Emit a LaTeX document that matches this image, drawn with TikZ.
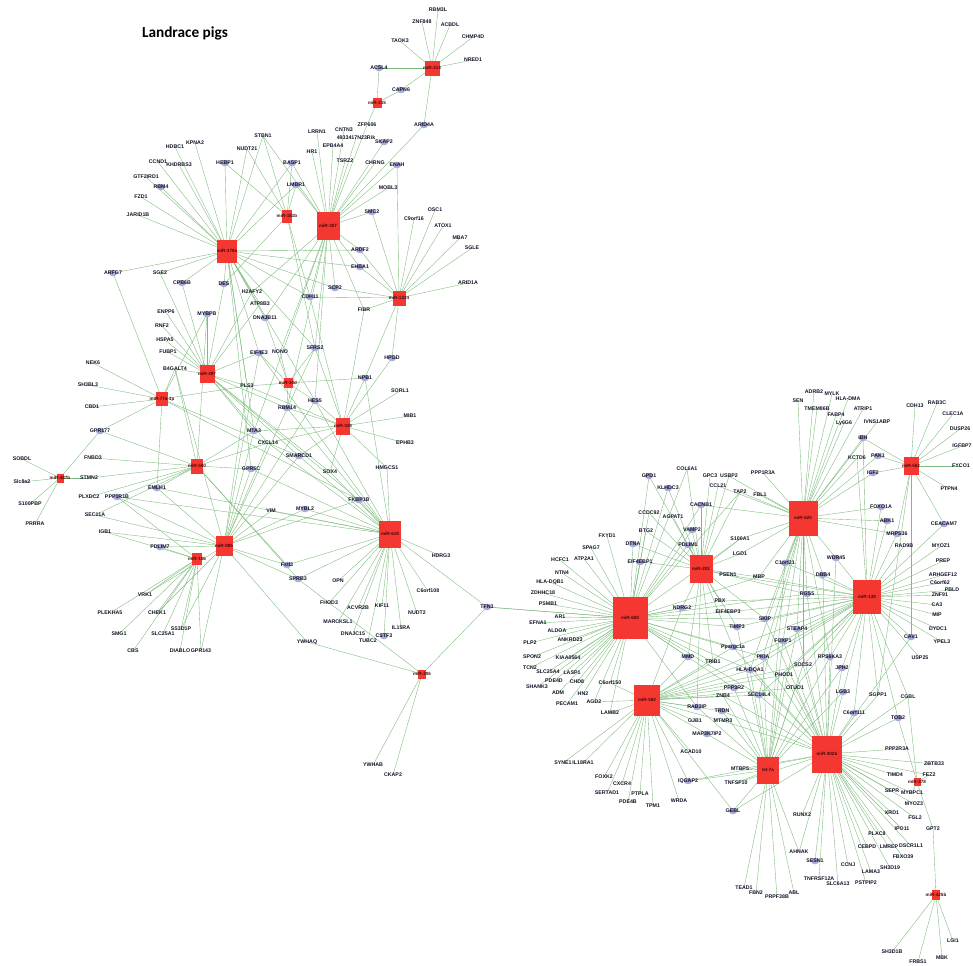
\documentclass[tikz,border=0pt]{standalone}
\usepackage{fontspec}
\setmainfont{Liberation Sans}
\newfontfamily\titlefont{Carlito}
\definecolor{mred}{RGB}{245,55,50}
\definecolor{mtxt}{RGB}{70,10,10}
\definecolor{egreen}{RGB}{125,188,125}
\definecolor{lavc}{RGB}{170,170,218}
\definecolor{gtxt}{RGB}{20,20,40}
\pgfdeclarelayer{edges}
\pgfdeclarelayer{circ}
\pgfsetlayers{edges,circ,main}
\tikzset{
  g/.style={font=\fontsize{3}{3}\selectfont\bfseries, text=gtxt, inner sep=0.3pt},
  mir/.style={rectangle, fill=mred, draw=none, inner sep=0pt},
  sz/.style 2 args={minimum width=#1*0.02cm, minimum height=#2*0.02cm},
  mt/.style={font=\fontsize{2.6}{2.6}\selectfont\bfseries, text=mtxt, inner sep=0pt},
  edge/.style={draw=egreen, line width=0.22pt}
}
\begin{document}
\begin{tikzpicture}[x=0.02cm,y=-0.02cm]
\useasboundingbox (0,0) rectangle (973,965);
\node[font=\titlefont\fontsize{8.7}{9}\selectfont\bfseries] (title) at (185,33) {Landrace pigs};
% ---------- miRNAs left ----------
\node[mir, sz={15}{15}, label={[mt]center:miR-214}] (m214) at (432,68) {};
\node[mir, sz={9}{10}, label={[mt]center:miR-215}] (m215) at (377,103) {};
\node[mir, sz={23}{28}, label={[mt]center:miR-307}] (m307) at (328,226) {};
\node[mir, sz={10}{13}, label={[mt]center:miR-181b}] (m181) at (287,216) {};
\node[mir, sz={20}{23}, label={[mt]center:miR-378a}] (m378a) at (227,251) {};
\node[mir, sz={13}{15}, label={[mt]center:miR-1224}] (m1224) at (399,298) {};
\node[mir, sz={15}{18}, label={[mt]center:miR-497}] (m497) at (207,374) {};
\node[mir, sz={12}{14}, label={[mt]center:miR-77a-3p}] (m77) at (162,399) {};
\node[mir, sz={9}{10}, label={[mt]center:miR-30d}] (m30d) at (288,383) {};
\node[mir, sz={14}{17}, label={[mt]center:miR-328}] (m328) at (343,426) {};
\node[mir, sz={12}{15}, label={[mt]center:miR-500}] (m500) at (197,466) {};
\node[mir, sz={7}{9}, label={[mt]center:miR-487b}] (m487) at (60,478) {};
\node[mir, sz={17}{20}, label={[mt]center:miR-885}] (m885) at (224,546) {};
\node[mir, sz={10}{12}, label={[mt]center:miR-106}] (m106) at (197,559) {};
\node[mir, sz={22}{27}, label={[mt]center:miR-619}] (m619) at (390,534) {};
\node[mir, sz={8}{9}, label={[mt]center:miR-206}] (m206) at (422,674) {};
% ---------- miRNAs right ----------
\node[mir, sz={23}{28}, label={[mt]center:miR-202}] (m202) at (701,569) {};
\node[mir, sz={29}{35}, label={[mt]center:miR-625}] (m625) at (803,518) {};
\node[mir, sz={15}{18}, label={[mt]center:miR-552}] (m552) at (911,466) {};
\node[mir, sz={28}{34}, label={[mt]center:miR-138}] (m138) at (867,597) {};
\node[mir, sz={35}{42}, label={[mt]center:miR-608}] (m608) at (630,618) {};
\node[mir, sz={26}{31}, label={[mt]center:miR-582}] (m582) at (647,700) {};
\node[mir, sz={22}{27}, label={[mt]center:let-7a}] (mlet7) at (768,770) {};
\node[mir, sz={30}{37}, label={[mt]center:miR-302b}] (m302) at (827,754) {};
\node[mir, sz={7}{8}, label={[mt]center:miR-378}] (m378) at (917,782) {};
\node[mir, sz={8}{10}, label={[mt]center:miR-425b}] (m425) at (936,895) {};
% ---------- genes left ----------
\node[g] (RBMthree) at (438,10) {RBM3L};
\node[g] (ZNF848) at (422,22) {ZNF848};
\node[g] (ACBDL) at (450,25) {ACBDL};
\node[g] (CHMP4D) at (473,37) {CHMP4D};
\node[g] (TAOK3) at (400,41) {TAOK3};
\node[g] (NRED1) at (473,60) {NRED1};
\node[g] (ACSL4) at (379,68) {ACSL4};
\node[g] (CAPN6) at (401,90) {CAPN6};
\node[g] (ARID4A) at (424,125) {ARID4A};
\node[g] (ZFP606) at (367,125) {ZFP606};
\node[g] (CNTN3) at (344,130) {CNTN3};
\node[g] (Rik) at (356,138) {4933417N23Rik};
\node[g] (SKAP2) at (384,142) {SKAP2};
\node[g] (EPB4A4) at (333,146) {EPB4A4};
\node[g] (LRRN1) at (317,132) {LRRN1};
\node[g] (HR1) at (312,152) {HR1};
\node[g] (TSRZ2) at (345,161) {TSRZ2};
\node[g] (CHRNG) at (375,163) {CHRNG};
\node[g] (ENAH) at (397,165) {ENAH};
\node[g] (MOBL3) at (388,188) {MOBL3};
\node[g] (SMC2) at (372,212) {SMC2};
\node[g] (ARDF2) at (360,250) {ARDF2};
\node[g] (EHBA1) at (360,267) {EHBA1};
\node[g] (SCP2) at (335,288) {SCP2};
\node[g] (CDH11) at (310,297) {CDH11};
\node[g] (C9orf16) at (414,219) {C9orf16};
\node[g] (OSC1) at (435,210) {OSC1};
\node[g] (ATOX1) at (443,226) {ATOX1};
\node[g] (MBA7) at (460,238) {MBA7};
\node[g] (SGLE) at (472,248) {SGLE};
\node[g] (ARID1A) at (468,283) {ARID1A};
\node[g] (HDBC1) at (175,147) {HDBC1};
\node[g] (KPNA2) at (195,143) {KPNA2};
\node[g] (STBN1) at (263,136) {STBN1};
\node[g] (NUDT21) at (247,149) {NUDT21};
\node[g] (CCND1) at (158,162) {CCND1};
\node[g] (KHDRBS3) at (179,165) {KHDRBS3};
\node[g] (HEBP1) at (225,163) {HEBP1};
\node[g] (BASP1) at (292,163) {BASP1};
\node[g] (GTF2IRD1) at (146,177) {GTF2IRD1};
\node[g] (RBM4) at (161,187) {RBM4};
\node[g] (LMBR1) at (296,185) {LMBR1};
\node[g] (FZD1) at (141,197) {FZD1};
\node[g] (JARID1B) at (138,215) {JARID1B};
\node[g] (ARFG7) at (113,273) {ARFG7};
\node[g] (SGE2) at (160,273) {SGE2};
\node[g] (CPB6B) at (182,283) {CPB6B};
\node[g] (DES) at (224,284) {DES};
\node[g] (H2AFY2) at (252,292) {H2AFY2};
\node[g] (ATP8B3) at (260,304) {ATP8B3};
\node[g] (DNAJB11) at (265,318) {DNAJB11};
\node[g] (FIBR) at (364,310) {FIBR};
\node[g] (ENPP6) at (166,312) {ENPP6};
\node[g] (MYBPB) at (207,314) {MYBPB};
\node[g] (RNF2) at (162,326) {RNF2};
\node[g] (HSPA5) at (165,340) {HSPA5};
\node[g] (FUBP1) at (168,352) {FUBP1};
\node[g] (B4GALT4) at (175,369) {B4GALT4};
\node[g] (NEK6) at (93,363) {NEK6};
\node[g] (SH3BL3) at (88,385) {SH3BL3};
\node[g] (CBD1) at (92,407) {CBD1};
\node[g] (GPR177) at (100,431) {GPR177};
\node[g] (PLS3) at (247,386) {PLS3};
\node[g] (EIF4E3) at (259,353) {EIF4E3};
\node[g] (NONO) at (280,352) {NONO};
\node[g] (SFRS2) at (315,348) {SFRS2};
\node[g] (HPGD) at (392,358) {HPGD};
\node[g] (NPB1) at (365,378) {NPB1};
\node[g] (SORL1) at (400,391) {SORL1};
\node[g] (HES5) at (315,401) {HES5};
\node[g] (RBM14) at (287,408) {RBM14};
\node[g] (MIB1) at (410,416) {MIB1};
\node[g] (MTA3) at (254,431) {MTA3};
\node[g] (CXCL14) at (268,443) {CXCL14};
\node[g] (EPHB3) at (405,443) {EPHB3};
\node[g] (SMARCD1) at (299,456) {SMARCD1};
\node[g] (GPR5C) at (251,469) {GPR5C};
\node[g] (HMGCS1) at (387,468) {HMGCS1};
\node[g] (SOX4) at (330,472) {SOX4};
\node[g] (FNBD3) at (93,458) {FNBD3};
\node[g] (STMN2) at (89,478) {STMN2};
\node[g] (SOBDL) at (22,459) {SOBDL};
\node[g] (Slc8a2) at (22,482) {Slc8a2};
\node[g] (EMLH1) at (157,488) {EMLH1};
\node[g] (PLXDC2) at (89,497) {PLXDC2};
\node[g] (PPP1R1B) at (117,497) {PPP1R1B};
\node[g] (S100PBP) at (30,504) {S100PBP};
\node[g] (PRRRA) at (35,524) {PRRRA};
\node[g] (SEC11A) at (95,515) {SEC11A};
\node[g] (IGB1) at (105,532) {IGB1};
\node[g] (PDLIM7) at (160,547) {PDLIM7};
\node[g] (VRK1) at (145,595) {VRK1};
\node[g] (PLEKHA5) at (110,613) {PLEKHA5};
\node[g] (CHEK1) at (157,613) {CHEK1};
\node[g] (SMG1) at (119,634) {SMG1};
\node[g] (SLC25A1) at (163,634) {SLC25A1};
\node[g] (SS3D1P) at (181,629) {SS3D1P};
\node[g] (CBS) at (133,651) {CBS};
\node[g] (DIABLO) at (180,651) {DIABLO};
\node[g] (GPR143) at (201,651) {GPR143};
\node[g] (FKBP1B) at (359,500) {FKBP1B};
\node[g] (VIM) at (271,511) {VIM};
\node[g] (MYBL2) at (305,509) {MYBL2};
\node[g] (HDRG3) at (441,556) {HDRG3};
\node[g] (Fstl3) at (287,565) {Fstl3};
\node[g] (SPRB3) at (298,579) {SPRB3};
\node[g] (OPN) at (338,581) {OPN};
\node[g] (C6orf108) at (428,591) {C6orf108};
\node[g] (FHOD3) at (329,603) {FHOD3};
\node[g] (ACVR2B) at (358,608) {ACVR2B};
\node[g] (KIF11) at (382,606) {KIF11};
\node[g] (NUDT2) at (417,613) {NUDT2};
\node[g] (MARCKSL1) at (338,622) {MARCKSL1};
\node[g] (IL15RA) at (401,628) {IL15RA};
\node[g] (DNAJC15) at (353,634) {DNAJC15};
\node[g] (CSTF3) at (384,636) {CSTF3};
\node[g] (TUBC2) at (368,641) {TUBC2};
\node[g] (YWHAQ) at (307,642) {YWHAQ};
\node[g] (TFN3) at (487,607) {TFN3};
\node[g] (YWHAB) at (373,765) {YWHAB};
\node[g] (CKAP2) at (393,775) {CKAP2};
% ---------- genes right ----------
\node[g] (COL6A1) at (687,469) {COL6A1};
\node[g] (GPD1) at (649,476) {GPD1};
\node[g] (GPC3) at (710,476) {GPC3};
\node[g] (USBP2) at (729,476) {USBP2};
\node[g] (KLHDC3) at (668,488) {KLHDC3};
\node[g] (CCL21) at (718,486) {CCL21};
\node[g] (TAP2) at (740,492) {TAP2};
\node[g] (CACNB1) at (701,505) {CACNB1};
\node[g] (CCDC92) at (649,513) {CCDC92};
\node[g] (AGPAT1) at (673,517) {AGPAT1};
\node[g] (BTG2) at (646,531) {BTG2};
\node[g] (VAMP2) at (692,530) {VAMP2};
\node[g] (FXYD1) at (607,536) {FXYD1};
\node[g] (S100A1) at (740,539) {S100A1};
\node[g] (SPAG7) at (591,548) {SPAG7};
\node[g] (DTNA) at (633,544) {DTNA};
\node[g] (PDLIM1) at (688,545) {PDLIM1};
\node[g] (LGD1) at (740,554) {LGD1};
\node[g] (HCFC1) at (560,560) {HCFC1};
\node[g] (ATP2A1) at (584,559) {ATP2A1};
\node[g] (EIF4EBP1) at (640,562) {EIF4EBP1};
\node[g] (ADRB2) at (814,392) {ADRB2};
\node[g] (MYLK) at (832,394) {MYLK};
\node[g] (HLADMA) at (848,399) {HLA-DMA};
\node[g] (SEN) at (798,401) {SEN};
\node[g] (TMEM86B) at (817,409) {TMEM86B};
\node[g] (ATRIP1) at (863,409) {ATRIP1};
\node[g] (FABP4) at (836,415) {FABP4};
\node[g] (Ly6G6) at (844,423) {Ly6G6};
\node[g] (IVNS1ABP) at (877,422) {IVNS1ABP};
\node[g] (CDH13) at (915,406) {CDH13};
\node[g] (RAB3C) at (937,403) {RAB3C};
\node[g] (CLEC1A) at (953,414) {CLEC1A};
\node[g] (DUSP26) at (960,429) {DUSP26};
\node[g] (IGFBP7) at (962,446) {IGFBP7};
\node[g] (FYCO1) at (961,466) {FYCO1};
\node[g] (PTPN4) at (949,489) {PTPN4};
\node[g] (IBH) at (863,438) {IBH};
\node[g] (KCTD6) at (857,458) {KCTD6};
\node[g] (PAK1) at (878,456) {PAK1};
\node[g] (IGF2) at (873,473) {IGF2};
\node[g] (PPP1R3A) at (763,473) {PPP1R3A};
\node[g] (FBL1) at (760,495) {FBL1};
\node[g] (FOXO1A) at (881,507) {FOXO1A};
\node[g] (ABK1) at (887,521) {ABK1};
\node[g] (CEACAM7) at (944,524) {CEACAM7};
\node[g] (MRPS36) at (897,534) {MRPS36};
\node[g] (RAD9B) at (904,546) {RAD9B};
\node[g] (MYOZ1) at (941,546) {MYOZ1};
\node[g] (PREP) at (943,561) {PREP};
\node[g] (ARHGEF12) at (943,575) {ARHGEF12};
\node[g] (C6orf62) at (940,583) {C6orf62};
\node[g] (WDR45) at (836,558) {WDR45};
\node[g] (C1orf21) at (785,563) {C1orf21};
\node[g] (DBB4) at (823,575) {DBB4};
\node[g] (MBP) at (759,577) {MBP};
\node[g] (PBLD) at (952,590) {PBLD};
\node[g] (ZNF91) at (940,595) {ZNF91};
\node[g] (CA3) at (937,605) {CA3};
\node[g] (MIP) at (937,615) {MIP};
\node[g] (DYDC1) at (938,629) {DYDC1};
\node[g] (YPEL3) at (942,642) {YPEL3};
\node[g] (CAV1) at (911,637) {CAV1};
\node[g] (USP25) at (920,658) {USP25};
\node[g] (RGS5) at (807,594) {RGS5};
\node[g] (SKIP) at (765,619) {SKIP};
\node[g] (STEAP4) at (797,629) {STEAP4};
\node[g] (FOXP1) at (783,641) {FOXP1};
\node[g] (PKIA) at (763,657) {PKIA};
\node[g] (RPS6KA3) at (830,657) {RPS6KA3};
\node[g] (JPH2) at (842,668) {JPH2};
\node[g] (SOCS2) at (803,665) {SOCS2};
\node[g] (HLADQA1) at (750,670) {HLA-DQA1};
\node[g] (PHOD1) at (784,675) {PHOD1};
\node[g] (OTUD1) at (795,688) {OTUD1};
\node[g] (SEC14L4) at (759,695) {SEC14L4};
\node[g] (LGB3) at (843,692) {LGB3};
\node[g] (SGPP1) at (878,695) {SGPP1};
\node[g] (CGBL) at (908,697) {CGBL};
\node[g] (C6orf111) at (854,713) {C6orf111};
\node[g] (TOB2) at (898,718) {TOB2};
\node[g] (PPP2R3A) at (897,749) {PPP2R3A};
\node[g] (ZBTB33) at (934,764) {ZBTB33};
\node[g] (FEZ2) at (929,775) {FEZ2};
\node[g] (TIMD4) at (895,775) {TIMD4};
\node[g] (SEPR) at (892,791) {SEPR};
\node[g] (MYBPC1) at (912,793) {MYBPC1};
\node[g] (MYOZ3) at (914,804) {MYOZ3};
\node[g] (XRD1) at (892,813) {XRD1};
\node[g] (FGL2) at (915,818) {FGL2};
\node[g] (IPO11) at (902,829) {IPO11};
\node[g] (GPT2) at (933,829) {GPT2};
\node[g] (PLAC8) at (877,834) {PLAC8};
\node[g] (CEBPD) at (867,847) {CEBPD};
\node[g] (LMREP) at (889,847) {LMREP};
\node[g] (DSCR1L1) at (911,846) {DSCR1L1};
\node[g] (FBXO39) at (903,857) {FBXO39};
\node[g] (AHNAK) at (799,852) {AHNAK};
\node[g] (SESN1) at (815,861) {SESN1};
\node[g] (CCNJ) at (848,865) {CCNJ};
\node[g] (LAMA3) at (871,872) {LAMA3};
\node[g] (SH3D19) at (890,868) {SH3D19};
\node[g] (TNFRSF12A) at (819,879) {TNFRSF12A};
\node[g] (SLC6A13) at (838,884) {SLC6A13};
\node[g] (PSTPIP2) at (866,883) {PSTPIP2};
\node[g] (TEAD1) at (744,888) {TEAD1};
\node[g] (FBN2) at (756,893) {FBN2};
\node[g] (PRPF38B) at (777,897) {PRPF38B};
\node[g] (ABL) at (794,893) {ABL};
\node[g] (RUNX2) at (802,815) {RUNX2};
\node[g] (GEBL) at (733,811) {GEBL};
\node[g] (LGI1) at (953,941) {LGI1};
\node[g] (SH3D1B) at (892,952) {SH3D1B};
\node[g] (FRBS1) at (918,962) {FRBS1};
\node[g] (MBK) at (942,958) {MBK};
\node[g] (IQGAP2) at (688,781) {IQGAP2};
\node[g] (CXCR4) at (622,784) {CXCR4};
\node[g] (FOXK2) at (604,777) {FOXK2};
\node[g] (SERTAD1) at (607,793) {SERTAD1};
\node[g] (PTPLA) at (640,794) {PTPLA};
\node[g] (PDE4B) at (628,802) {PDE4B};
\node[g] (TPM1) at (653,806) {TPM1};
\node[g] (WRDA) at (679,801) {WRDA};
\node[g] (SYNE1) at (563,763) {SYNE1};
\node[g] (IL18RA1) at (583,763) {IL18RA1};
\node[g] (MTBP5) at (740,769) {MTBP5};
\node[g] (TNFSF10) at (736,783) {TNFSF10};
\node[g] (NTN4) at (562,573) {NTN4};
\node[g] (HLADQB1) at (550,582) {HLA-DQB1};
\node[g] (ZDHHC18) at (543,593) {ZDHHC18};
\node[g] (PSMB1) at (548,604) {PSMB1};
\node[g] (AR1) at (560,617) {AR1};
\node[g] (EFNA1) at (538,623) {EFNA1};
\node[g] (ALDOA) at (557,631) {ALDOA};
\node[g] (ANKRD23) at (570,640) {ANKRD23};
\node[g] (PLP2) at (530,643) {PLP2};
\node[g] (SPON2) at (532,657) {SPON2};
\node[g] (KIAA0564) at (568,658) {KIAA0564};
\node[g] (TCN2) at (530,668) {TCN2};
\node[g] (SLC25A4) at (548,672) {SLC25A4};
\node[g] (LASP1) at (572,673) {LASP1};
\node[g] (SHANK3) at (537,687) {SHANK3};
\node[g] (PDE4D) at (554,681) {PDE4D};
\node[g] (CHD8) at (577,682) {CHD8};
\node[g] (C6orf150) at (610,683) {C6orf150};
\node[g] (ADM) at (558,693) {ADM};
\node[g] (HN2) at (583,694) {HN2};
\node[g] (AGD2) at (594,702) {AGD2};
\node[g] (PECAM1) at (567,704) {PECAM1};
\node[g] (LAMB2) at (610,713) {LAMB2};
\node[g] (NDRG2) at (682,608) {NDRG2};
\node[g] (PSEN1) at (728,575) {PSEN1};
\node[g] (PBX) at (720,601) {PBX};
\node[g] (EIF4EBP3) at (728,612) {EIF4EBP3};
\node[g] (TIMP3) at (737,627) {TIMP3};
\node[g] (Ppargc1a) at (733,647) {Ppargc1a};
\node[g] (MMD) at (688,657) {MMD};
\node[g] (TRIB1) at (713,662) {TRIB1};
\node[g] (PPP3R2) at (734,688) {PPP3R2};
\node[g] (ZNB4) at (723,696) {ZNB4};
\node[g] (RAB3IP) at (697,707) {RAB3IP};
\node[g] (TRDN) at (722,711) {TRDN};
\node[g] (GJB1) at (695,721) {GJB1};
\node[g] (MTMR3) at (723,721) {MTMR3};
\node[g] (MAP3K7IP2) at (707,734) {MAP3K7IP2};
\node[g] (ACAD10) at (691,752) {ACAD10};
% ---------- hub circles ----------
\begin{pgfonlayer}{circ}
\foreach \h in {ACSL4,CAPN6,ARID4A,SKAP2,ENAH,SMC2,ARDF2,EHBA1,SCP2,CDH11,HEBP1,BASP1,RBM4,LMBR1,ARFG7,CPB6B,DES,DNAJB11,MYBPB,GPR177,EIF4E3,SFRS2,HPGD,NPB1,HES5,RBM14,MTA3,SMARCD1,GPR5C,EMLH1,PPP1R1B,PDLIM7,FKBP1B,MYBL2,Fstl3,SPRB3,CSTF3,TFN3,GPD1,KLHDC3,CACNB1,VAMP2,DTNA,PDLIM1,EIF4EBP1,IBH,PAK1,IGF2,FOXO1A,ABK1,CEACAM7,MRPS36,WDR45,C1orf21,DBB4,CAV1,RGS5,SKIP,STEAP4,FOXP1,PKIA,RPS6KA3,JPH2,HLADQA1,SEC14L4,LGB3,C6orf111,TOB2,SESN1,GEBL,IQGAP2,NDRG2,TIMP3,Ppargc1a,MMD,PPP3R2,RAB3IP,TRDN,MAP3K7IP2}
  \fill[lavc] (\h.center) ellipse[x radius=0.085cm, y radius=0.065cm];
\end{pgfonlayer}
% ---------- edges ----------
\begin{pgfonlayer}{edges}
\foreach \m/\L in {
 m214/{RBMthree,ZNF848,ACBDL,CHMP4D,TAOK3,NRED1,ACSL4,CAPN6,ARID4A},
 m215/{ACSL4,CAPN6,ZFP606},
 m307/{LRRN1,HR1,CNTN3,Rik,EPB4A4,TSRZ2,CHRNG,ENAH,SKAP2,ZFP606,ARID4A,MOBL3,SMC2,ARDF2,EHBA1,SCP2,CDH11,STBN1,BASP1,LMBR1,SFRS2,NONO,H2AFY2,DNAJB11,FIBR,HES5,RBM14,MTA3},
 m181/{NUDT21,HEBP1,BASP1,LMBR1,STBN1,CDH11,SFRS2,DES},
 m378a/{HDBC1,KPNA2,CCND1,KHDRBS3,GTF2IRD1,RBM4,FZD1,JARID1B,HEBP1,STBN1,NUDT21,BASP1,LMBR1,ARFG7,SGE2,CPB6B,DES,H2AFY2,ATP8B3,DNAJB11,EIF4E3,ARDF2,CDH11,SCP2,EHBA1,SFRS2,PLS3,HES5,MTA3,GPR5C},
 m1224/{C9orf16,OSC1,ATOX1,MBA7,SGLE,ARID1A,SMC2,ARDF2,EHBA1,SCP2,FIBR,HPGD,CDH11,ENAH,NPB1},
 m497/{ENPP6,MYBPB,RNF2,HSPA5,FUBP1,B4GALT4,CPB6B,SGE2,DES,PLS3,RBM14,EIF4E3,MTA3,CXCL14,SMARCD1,H2AFY2,ATP8B3,SOX4,FKBP1B},
 m77/{NEK6,SH3BL3,CBD1,GPR177,ARFG7,B4GALT4,MYBPB,PLS3,EMLH1,SMARCD1,FKBP1B},
 m30d/{NONO,EIF4E3,SFRS2,NPB1,RBM14,HES5,PLS3,DNAJB11},
 m328/{HPGD,SORL1,MIB1,EPHB3,HMGCS1,SOX4,SMARCD1,MTA3,RBM14,HES5,NPB1,CXCL14,PLS3,FIBR,SFRS2,CDH11},
 m500/{FNBD3,STMN2,EMLH1,PPP1R1B,GPR5C,MTA3,CXCL14,SEC11A,PLXDC2,B4GALT4,GPR177,MYBPB,SPRB3,Fstl3},
 m487/{SOBDL,Slc8a2,S100PBP,PRRRA,GPR177,STMN2},
 m885/{PDLIM7,PPP1R1B,EMLH1,VIM,MYBL2,Fstl3,SPRB3,GPR5C,SMARCD1,CXCL14,MTA3,IGB1,SEC11A,YWHAQ,FKBP1B,PLS3,EIF4E3,B4GALT4,HES5,SFRS2,VRK1,CHEK1,SS3D1P,GPR143},
 m106/{VRK1,PLEKHA5,CHEK1,SMG1,SLC25A1,SS3D1P,CBS,DIABLO,GPR143,PDLIM7,IGB1,PPP1R1B},
 m619/{FKBP1B,MYBL2,VIM,Fstl3,SPRB3,HDRG3,C6orf108,OPN,FHOD3,ACVR2B,KIF11,NUDT2,MARCKSL1,IL15RA,DNAJC15,CSTF3,TUBC2,TFN3,SOX4,HMGCS1,SMARCD1,GPR5C,HES5,NPB1,PPP1R1B,EMLH1,RBM14,EIF4E3,CXCL14},
 m206/{YWHAQ,TFN3,SPRB3,YWHAB,CKAP2},
 m202/{PSEN1,NDRG2,PBX,EIF4EBP1,DTNA,BTG2,VAMP2,PDLIM1,AGPAT1,CACNB1,COL6A1,GPC3,USBP2,CCL21,TAP2,KLHDC3,CCDC92,GPD1,S100A1,LGD1,MBP,MMD,TRIB1,RAB3IP,TIMP3,Ppargc1a,SKIP,RGS5},
 m608/{HCFC1,ATP2A1,SPAG7,FXYD1,NTN4,HLADQB1,ZDHHC18,PSMB1,AR1,EFNA1,ALDOA,ANKRD23,PLP2,SPON2,KIAA0564,TCN2,SLC25A4,LASP1,SHANK3,PDE4D,CHD8,C6orf150,ADM,HN2,AGD2,PECAM1,LAMB2,DTNA,EIF4EBP1,BTG2,CCDC92,GPD1,KLHDC3,NDRG2,TFN3,PBX,EIF4EBP3,TIMP3,Ppargc1a,HLADQA1,PKIA,SKIP,RGS5,MMD,TRIB1,PPP3R2,COL6A1,CACNB1,VAMP2,PDLIM1,S100A1,TAP2,MBP,SEC14L4,RAB3IP},
 m582/{C6orf150,LAMB2,AGD2,SYNE1,IL18RA1,FOXK2,SERTAD1,CXCR4,PDE4B,PTPLA,TPM1,WRDA,IQGAP2,ACAD10,MAP3K7IP2,GJB1,RAB3IP,MTMR3,TRDN,ZNB4,PPP3R2,MMD,TRIB1,HLADQA1,SEC14L4,Ppargc1a,OTUD1,PHOD1,SOCS2,NDRG2,FOXP1,PKIA,GEBL},
 m625/{SEN,ADRB2,MYLK,HLADMA,TMEM86B,FABP4,Ly6G6,ATRIP1,IVNS1ABP,IBH,KCTD6,PAK1,IGF2,PPP1R3A,FBL1,FOXO1A,ABK1,TAP2,S100A1,LGD1,C1orf21,WDR45,DBB4,MBP,CACNB1,CCL21,USBP2,RGS5,SKIP,STEAP4,FOXP1,PKIA,HLADQA1,SEC14L4,SOCS2,RPS6KA3,MRPS36},
 m552/{CDH13,RAB3C,CLEC1A,DUSP26,IGFBP7,FYCO1,PTPN4,PAK1,IGF2,CEACAM7,MRPS36,IBH,CAV1,SGPP1},
 m138/{MRPS36,RAD9B,MYOZ1,PREP,ARHGEF12,C6orf62,PBLD,ZNF91,CA3,MIP,DYDC1,YPEL3,CAV1,USP25,CEACAM7,WDR45,DBB4,RGS5,SKIP,STEAP4,FOXP1,PKIA,RPS6KA3,JPH2,SOCS2,LGB3,SGPP1,C6orf111,TOB2,ABK1,FOXO1A,PBX,EIF4EBP3,TIMP3,Ppargc1a,HLADQA1,MBP,C1orf21,PSEN1,PHOD1,OTUD1,SEC14L4,CGBL,IBH,KCTD6},
 mlet7/{MTBP5,TNFSF10,GEBL,IQGAP2,TEAD1,FBN2,PRPF38B,ABL,AHNAK,FOXP1,PKIA,SEC14L4,HLADQA1,STEAP4,SOCS2,OTUD1,PHOD1,TRDN,PPP3R2,ZNB4,MAP3K7IP2,RAB3IP,LGB3,RPS6KA3,JPH2,C1orf21,TIMP3},
 m302/{PPP2R3A,ZBTB33,FEZ2,TIMD4,SEPR,MYBPC1,MYOZ3,XRD1,FGL2,IPO11,PLAC8,CEBPD,LMREP,DSCR1L1,FBXO39,SH3D19,LAMA3,CCNJ,PSTPIP2,SLC6A13,TNFRSF12A,SESN1,AHNAK,RUNX2,C6orf111,SGPP1,JPH2,LGB3,RPS6KA3,OTUD1,SOCS2,PHOD1,TOB2,CGBL,CAV1,STEAP4,RGS5,DBB4,WDR45,TRDN,ZNB4,GEBL,MTBP5,TNFSF10,SEC14L4,FOXP1,SKIP,PKIA,Ppargc1a,HLADQA1,MTMR3,IQGAP2},
 m378/{TOB2,GPT2,MYBPC1,FEZ2,CGBL},
 m425/{GPT2,SH3D1B,FRBS1,MBK,LGI1}}
 {\foreach \gg in \L {\draw[edge] (\m.center) -- (\gg.center);}}
\draw[edge] (TFN3.center) -- (m608.center);
\end{pgfonlayer}
\end{tikzpicture}
\end{document}
